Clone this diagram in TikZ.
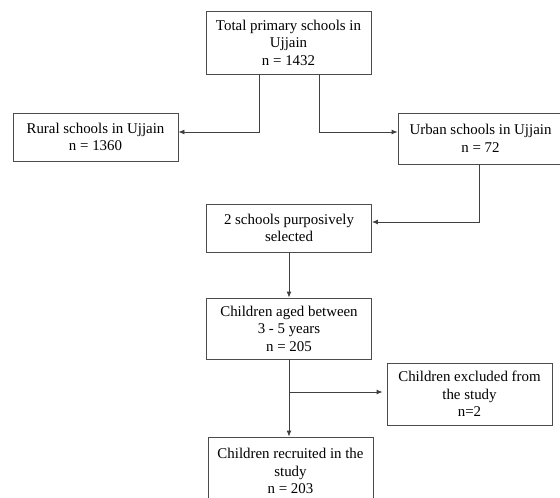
\documentclass[tikz,border=0pt]{standalone}
\usepackage{fontspec}
\setmainfont{Liberation Serif}
\usetikzlibrary{arrows.meta,positioning}
\tikzset{
  flowbox/.style={draw=black!70, line width=0.9pt, minimum width=165pt, align=center,
    inner sep=2pt, font=\fontsize{14.9}{17.5}\selectfont},
  flowline/.style={draw=black!75, line width=0.9pt, -{Latex[length=6pt,width=5pt]}}
}
\begin{document}
\begin{tikzpicture}[x=1pt,y=-1pt]
		\useasboundingbox (0,0) rectangle (560,498);
		\fill[white] (0,0) rectangle (560,498);
		\clip (0,0) rectangle (560,498);
		% boxes
		\node[flowbox, minimum height=63pt] (total) at (288.5,42.5) {Total primary schools in\\Ujjain\\n = 1432};
		\node[flowbox, minimum height=48pt] (rural) at (95.5,137) {Rural schools in Ujjain\\n = 1360};
		\node[flowbox, minimum height=51pt] (urban) at (480.5,138.5) {Urban schools in Ujjain\\n = 72};
		\node[flowbox, minimum height=48pt] (schools) at (289,228) {2 schools purposively\\selected};
		\node[flowbox, minimum height=61pt] (aged) at (289,328.5) {Children aged between\\3 - 5 years\\n = 205};
		\node[flowbox, minimum height=62pt] (excluded) at (469.5,394) {Children excluded from\\the study\\n=2};
		\node[flowbox, minimum height=68pt] (recruited) at (290.5,471) {Children recruited in the\\study\\n = 203};
		% connectors
		\draw[flowline] ([xshift=-29.5pt]total.south) |- ([yshift=5pt]rural.east);
		\draw[flowline] ([xshift=30.5pt]total.south) |- ([yshift=6.5pt]urban.west);
		\draw[flowline] ([xshift=-1.5pt]urban.south) |- ([yshift=6pt]schools.east);
		\draw[flowline] (schools.south) -- (schools.south |- aged.north);
		\draw[flowline] (aged.south) -- (aged.south |- recruited.north);
		\coordinate (split) at ([yshift=2pt]aged.south |- excluded.west);
		\draw[flowline, shorten >=4pt] (split) -- (split -| excluded.west);
\end{tikzpicture}
\end{document}
